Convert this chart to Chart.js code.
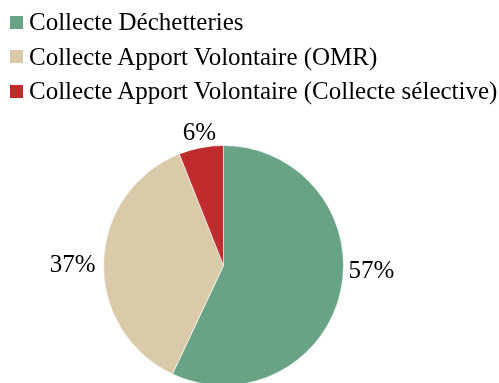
<!DOCTYPE html>
<html>
<head>
<meta charset="utf-8">
<script src="https://cdn.jsdelivr.net/npm/chart.js@4.4.1/dist/chart.umd.min.js"></script>
<style>
    html, body { margin: 0; padding: 0; background: #fff; overflow: hidden; }
    #wrap { position: relative; width: 499px; height: 383px; overflow: hidden; }
    #pie { position: absolute; left: 0; top: 0; }
    #legend {
        position: absolute; left: 10px; top: 5px;
        margin: 0; padding: 0; list-style: none;
        font-family: "Liberation Serif", serif; font-size: 25px; color: #000;
    }
    #legend li { display: flex; align-items: center; height: 34.5px; white-space: nowrap; }
    #legend .box { width: 13px; height: 13px; margin-right: 6px; flex: none; }
</style>
</head>
<body>
<div id="wrap">
    <canvas id="pie" width="499" height="400"></canvas>
    <ul id="legend"></ul>
</div>
<script>
const categories = ['Collecte Déchetteries', 'Collecte Apport Volontaire (OMR)', 'Collecte Apport Volontaire (Collecte sélective)'];
const shares = [57, 37, 6];

// percentages written just outside each slice
const pctLabels = {
    id: 'pctLabels',
    afterDatasetsDraw(chart) {
        const ctx = chart.ctx;
        const meta = chart.getDatasetMeta(0);
        ctx.save();
        ctx.font = '25px "Liberation Serif", serif';
        ctx.fillStyle = '#000';
        meta.data.forEach((arc, i) => {
            const { x, y, startAngle, endAngle, outerRadius } = arc.getProps(['x', 'y', 'startAngle', 'endAngle', 'outerRadius'], true);
            const mid = (startAngle + endAngle) / 2;
            const cos = Math.cos(mid), sin = Math.sin(mid);
            const r = outerRadius + 8;
            if (Math.abs(cos) > Math.abs(sin)) {
                // side labels sit close to the horizontal through the centre
                ctx.textAlign = cos > 0 ? 'left' : 'right';
                ctx.textBaseline = 'middle';
                ctx.fillText(shares[i] + '%', x + cos * r, y + sin * Math.abs(sin) * r);
            } else {
                ctx.textAlign = 'center';
                ctx.textBaseline = sin < 0 ? 'alphabetic' : 'top';
                ctx.fillText(shares[i] + '%', x + cos * r, y + sin * r);
            }
        });
        ctx.restore();
    }
};

const chart = new Chart(document.getElementById('pie'), {
    type: 'pie',
    data: {
        labels: categories,
        datasets: [{
            data: shares,
            backgroundColor: ['#68a386', '#dbcaa9', '#c02b2e'],
            borderColor: 'rgba(255,255,255,0.6)',
            borderWidth: 1
        }]
    },
    options: {
        responsive: false,
        animation: false,
        layout: { padding: { left: 103, right: 155, top: 145, bottom: 14 } },
        plugins: {
            legend: { display: false },
            tooltip: { enabled: false }
        }
    },
    plugins: [pctLabels]
});

// html legend built from the chart's own legend items
const items = chart.options.plugins.legend.labels.generateLabels(chart);
const ul = document.getElementById('legend');
items.forEach(item => {
    const li = document.createElement('li');
    const box = document.createElement('span');
    box.className = 'box';
    box.style.background = item.fillStyle;
    li.appendChild(box);
    li.appendChild(document.createTextNode(item.text));
    ul.appendChild(li);
});
</script>
</body>
</html>
